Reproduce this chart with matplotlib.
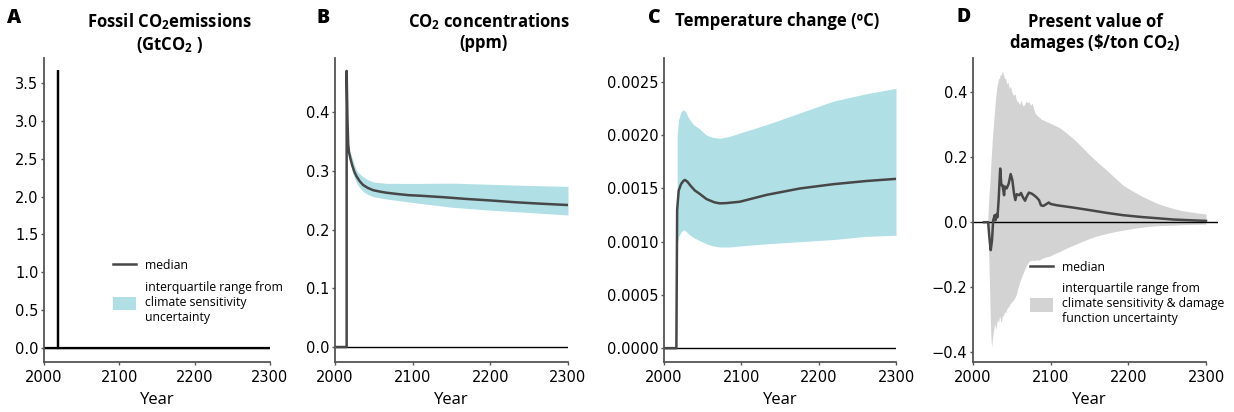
import matplotlib
matplotlib.use("Agg")
import matplotlib.pyplot as plt
from matplotlib.lines import Line2D
from matplotlib.patches import Patch
from matplotlib.ticker import FuncFormatter

# ---------------- data ----------------
# A: fossil CO2 emissions pulse (GtCO2)
years_a = [2000, 2018, 2018, 2019, 2019, 2300]
emissions_a = [0, 0, 3.67, 3.67, 0, 0]

# B: CO2 concentration response (ppm)
years_b = [2000, 2015, 2015, 2016, 2017, 2018, 2020, 2022, 2025, 2028, 2032, 2036, 2042,
           2049, 2058, 2066, 2080, 2095, 2109, 2140, 2170, 2200, 2234, 2265, 2300]
median_b = [0, 0, 0.47, 0.39, 0.345, 0.332, 0.32, 0.31, 0.298, 0.29, 0.282, 0.276, 0.271,
            0.267, 0.2645, 0.2627, 0.2605, 0.2585, 0.2576, 0.255, 0.252, 0.2495, 0.2463, 0.244, 0.2417]
band_years_b = [2018, 2020, 2022, 2025, 2029, 2036, 2042, 2049, 2066, 2109, 2150, 2200, 2250, 2300]
upper_b = [0.335, 0.33, 0.322, 0.31, 0.298, 0.29, 0.285, 0.281, 0.2786, 0.2785, 0.279, 0.277, 0.275, 0.2735]
lower_b = [0.33, 0.315, 0.30, 0.288, 0.276, 0.265, 0.26, 0.256, 0.252, 0.2445, 0.238, 0.233, 0.229, 0.2247]

# C: temperature change (degC)
years_c = [2000, 2016, 2017, 2019, 2022, 2025, 2027, 2030, 2035, 2040, 2046, 2055, 2065,
           2072, 2080, 2098, 2133, 2176, 2219, 2262, 2300]
median_c = [0, 0, 0.0013, 0.00148, 0.00154, 0.00157, 0.00158, 0.001565, 0.00152, 0.00148,
            0.00145, 0.00140, 0.00137, 0.00136, 0.001362, 0.001375, 0.00144, 0.0015, 0.00154,
            0.00157, 0.00159]
band_years_c = [2017, 2019, 2022, 2025, 2028, 2032, 2038, 2046, 2055, 2063, 2072, 2085, 2098,
                2133, 2176, 2219, 2262, 2300]
upper_c = [0.00200, 0.00215, 0.00222, 0.00224, 0.00222, 0.00216, 0.00210, 0.00206, 0.00200,
           0.00198, 0.00197, 0.00199, 0.00202, 0.00210, 0.00221, 0.00232, 0.00239, 0.00244]
lower_c = [0.00098, 0.00105, 0.00109, 0.00111, 0.00110, 0.00107, 0.00104, 0.00101, 0.00098,
           0.00096, 0.00095, 0.00095, 0.00096, 0.00098, 0.00100, 0.00102, 0.00105, 0.00106]

# D: present value of damages ($/ton CO2)
years_d = [2014, 2019.5, 2021, 2022.8, 2024.5, 2026, 2028, 2029, 2030.5, 2031.5, 2033, 2035,
           2036.5, 2038, 2040, 2041, 2043.4, 2046, 2048.5, 2050.7, 2052.8, 2054.5, 2056.2,
           2059.7, 2061.8, 2064, 2067, 2069, 2072, 2075.5, 2078.5, 2082, 2085, 2087.5, 2090.5,
           2094, 2097.5, 2100, 2108, 2129, 2150.6, 2172, 2193.5, 2215, 2236.5, 2258, 2279, 2300]
median_d = [0, 0, -0.045, -0.086, -0.055, 0.006, 0.0215, 0.006, 0.025, 0.015, 0.068, 0.165,
            0.114, 0.114, 0.083, 0.11, 0.104, 0.119, 0.148, 0.129, 0.088, 0.068, 0.086,
            0.083, 0.090, 0.078, 0.066, 0.078, 0.091, 0.088, 0.083, 0.076, 0.068, 0.052, 0.050,
            0.055, 0.0605, 0.056, 0.052, 0.045, 0.037, 0.0287, 0.0215, 0.0164, 0.0123, 0.0082, 0.006, 0.004]
band_years_d = ([2019, 2020, 2021, 2022, 2023, 2024, 2025, 2026, 2027, 2028,
                 2029, 2030, 2031, 2032, 2033, 2034, 2035, 2036, 2037, 2038,
                 2039, 2040, 2041, 2042, 2043, 2044, 2045, 2046, 2047, 2048]
                + list(range(2050, 2091, 2))
                + [2094, 2099, 2105, 2112, 2120, 2129, 2140, 2150, 2160, 2172, 2183,
                   2193, 2204, 2215, 2226, 2236, 2247, 2258, 2268, 2279, 2290, 2300])
upper_d = [0.01, 0.06, 0.10, 0.13, 0.18, 0.22, 0.26, 0.29, 0.32, 0.35,
           0.38, 0.40, 0.42, 0.43, 0.445, 0.44, 0.455, 0.45, 0.46, 0.463,
           0.455, 0.448, 0.44, 0.445, 0.43, 0.425, 0.432, 0.418, 0.41, 0.42,
           0.40, 0.39, 0.395, 0.375, 0.37, 0.362, 0.376, 0.358, 0.36, 0.372, 0.368,
           0.37, 0.36, 0.365, 0.35, 0.335, 0.33, 0.325, 0.322, 0.316, 0.315,
           0.31, 0.305, 0.298, 0.29, 0.275, 0.257, 0.232, 0.207, 0.185, 0.16, 0.136,
           0.114, 0.098, 0.083, 0.07, 0.059, 0.05, 0.042, 0.036, 0.032, 0.028, 0.025]
lower_d = [-0.01, -0.08, -0.17, -0.27, -0.35, -0.385, -0.36, -0.34, -0.325, -0.31,
           -0.33, -0.32, -0.305, -0.30, -0.31, -0.29, -0.295, -0.31, -0.30, -0.285,
           -0.29, -0.28, -0.275, -0.28, -0.27, -0.265, -0.26, -0.262, -0.255, -0.25,
           -0.245, -0.24, -0.232, -0.22, -0.20, -0.185, -0.172, -0.16, -0.148, -0.137, -0.128,
           -0.12, -0.118, -0.117, -0.118, -0.117, -0.116, -0.117, -0.116, -0.112, -0.11,
           -0.107, -0.104, -0.097, -0.09, -0.08, -0.071, -0.060, -0.050, -0.042, -0.035, -0.029,
           -0.0246, -0.02, -0.0164, -0.013, -0.011, -0.01, -0.0092, -0.008, -0.007, -0.0065, -0.006]

# ---------------- style ----------------
plt.rcParams["font.family"] = ["DejaVu Sans"]
plt.rcParams["mathtext.fontset"] = "custom"
plt.rcParams["mathtext.rm"] = "Open Sans"
plt.rcParams["mathtext.bf"] = "Open Sans:bold"
plt.rcParams["mathtext.it"] = "Open Sans:italic"

TEAL = "#b0e0e6"
GREY_BAND = "#d3d3d3"
LINE = "#474747"
SPINE = "#555555"
TITLE_FONT = dict(family="Open Sans", weight="bold", size=12)
LETTER_FONT = dict(family="Open Sans", weight="heavy", size=14)
LABEL_FONT = dict(family="Open Sans", size=12)

W, H = 1234, 412
fig = plt.figure(figsize=(W / 100, H / 100), dpi=100)


def px_axes(x0, x1, y_top, y_bot):
    return fig.add_axes([x0 / W, 1 - y_bot / H, (x1 - x0) / W, (y_bot - y_top) / H])


def ftext(x, y, s, **kw):
    fig.text(x / W, 1 - y / H, s, **kw)


ax_a = px_axes(44, 270, 58, 362)
ax_b = px_axes(335, 568, 58, 362)
ax_c = px_axes(664, 896, 58, 362)
ax_d = px_axes(973, 973 + 233 * 315 / 300, 58, 362)

for ax in (ax_a, ax_b, ax_c, ax_d):
    for side in ("top", "right"):
        ax.spines[side].set_visible(False)
    for side in ("left", "bottom"):
        ax.spines[side].set_color(SPINE)
        ax.spines[side].set_linewidth(1.3)
    ax.tick_params(axis="both", colors=SPINE, length=2.5, width=1, labelcolor="black",
                   labelsize=10.5)
    ax.tick_params(axis="y", pad=1.5)
    ax.tick_params(axis="x", pad=3)
    ax.set_xticks([2000, 2100, 2200, 2300])
    ax.set_xlim(2000, 2300)
    ax.set_xlabel("Year", fontdict=LABEL_FONT)
    ax.xaxis.set_label_coords(0.5, -0.1)

# A
ax_a.axhline(0, color="black", lw=1)
ax_a.plot(years_a, emissions_a, color="black", lw=1.6, solid_joinstyle="miter")
ax_a.set_ylim(-0.185, 3.83)
ax_a.set_yticks([0, 0.5, 1.0, 1.5, 2.0, 2.5, 3.0, 3.5])
ax_a.yaxis.set_major_formatter(FuncFormatter(lambda v, p: f"{v:.1f}"))

# B
ax_b.fill_between(band_years_b, lower_b, upper_b, color=TEAL, lw=0)
ax_b.axhline(0, color="black", lw=1)
ax_b.plot(years_b, median_b, color=LINE, lw=1.8)
ax_b.set_ylim(-0.0255, 0.492)
ax_b.set_yticks([0, 0.1, 0.2, 0.3, 0.4])
ax_b.yaxis.set_major_formatter(FuncFormatter(lambda v, p: f"{v:.1f}"))

# C
ax_c.fill_between(band_years_c, lower_c, upper_c, color=TEAL, lw=0)
ax_c.axhline(0, color="black", lw=1)
ax_c.plot(years_c, median_c, color=LINE, lw=1.8)
ax_c.set_ylim(-0.00013, 0.002725)
ax_c.set_yticks([0, 0.0005, 0.001, 0.0015, 0.002, 0.0025])
ax_c.yaxis.set_major_formatter(FuncFormatter(lambda v, p: f"{v:.4f}"))

# D
ax_d.set_xlim(2000, 2315)
ax_d.spines["bottom"].set_bounds(2000, 2300)
ax_d.xaxis.set_label_coords(0.5 * 300 / 315, -0.1)
ax_d.fill_between(band_years_d, lower_d, upper_d, color=GREY_BAND, lw=0)
ax_d.axhline(0, color="black", lw=1)
ax_d.plot(years_d, median_d, color=LINE, lw=1.8)
ax_d.set_ylim(-0.43, 0.505)
ax_d.set_yticks([-0.4, -0.2, 0, 0.2, 0.4])
ax_d.yaxis.set_major_formatter(FuncFormatter(lambda v, p: f"{v:.1f}".replace("-", "\u2212")))

# legends
leg_font = dict(family="Open Sans", size=8.8)
handles_a = [Line2D([], [], color=LINE, lw=1.8),
             Patch(facecolor=TEAL, edgecolor="none")]
labels_a = ["median", "interquartile range from\nclimate sensitivity\nuncertainty"]
ax_a.legend(handles_a, labels_a, loc="upper left", bbox_to_anchor=(0.305, 0.34),
            frameon=False, prop=leg_font, borderpad=0, borderaxespad=0,
            handlelength=1.9, handleheight=1.3, handletextpad=0.7, labelspacing=0.7)

handles_d = [Line2D([], [], color=LINE, lw=1.8),
             Patch(facecolor=GREY_BAND, edgecolor="none")]
labels_d = ["median", "interquartile range from\nclimate sensitivity & damage\nfunction uncertainty"]
ax_d.legend(handles_d, labels_d, loc="upper left", bbox_to_anchor=(0.233, 0.335),
            frameon=False, prop=leg_font, borderpad=0, borderaxespad=0,
            handlelength=1.9, handleheight=1.3, handletextpad=0.7, labelspacing=0.7)

# panel letters
for x, y, s in [(7, 23, "A"), (317, 23, "B"), (648, 23, "C"), (957, 22, "D")]:
    ftext(x, y, s, ha="left", va="baseline", **LETTER_FONT)

# titles
ftext(170, 27, r"Fossil CO$_\mathbf{2}$emissions", ha="center", va="baseline", **TITLE_FONT)
ftext(170, 50, r"(GtCO$_\mathbf{2}$ )", ha="center", va="baseline", **TITLE_FONT)
ftext(489, 27, r"CO$_\mathbf{2}$ concentrations", ha="center", va="baseline", **TITLE_FONT)
ftext(484, 48, "(ppm)", ha="center", va="baseline", **TITLE_FONT)
ftext(675, 26, "Temperature change (\u00baC)", ha="left", va="baseline", **TITLE_FONT)
ftext(1095, 27, "Present value of", ha="center", va="baseline", **TITLE_FONT)
ftext(1095, 48, r"damages (\$/ton CO$_\mathbf{2}$)", ha="center", va="baseline", **TITLE_FONT)

fig.savefig("out.png", dpi=100)
